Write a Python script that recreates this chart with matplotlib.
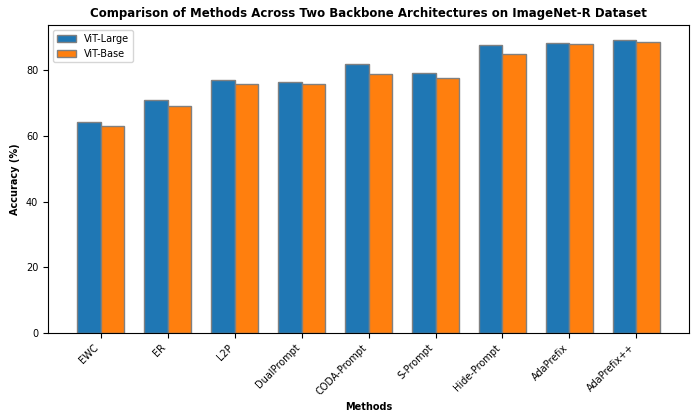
import numpy as np
from matplotlib import pyplot as plt

methods = ['EWC', 'ER', 'L2P', 'DualPrompt', 'CODA-Prompt', 'S-Prompt',
           'Hide-Prompt', 'AdaPrefix', 'AdaPrefix++']
vit_large = [64.3, 71.0, 77.0, 76.5, 82.1, 79.1, 87.6, 88.3, 89.4]
vit_base = [63.1, 69.1, 75.8, 75.9, 79.0, 77.6, 85.1, 87.9, 88.6]

fig, ax = plt.subplots(figsize=(6.96, 4.15), dpi=100)
x = np.arange(len(methods))
w = 0.35
ax.bar(x - w/2, vit_large, w, label='ViT-Large', color='#1f77b4', edgecolor='grey')
ax.bar(x + w/2, vit_base, w, label='ViT-Base', color='#ff7f0e', edgecolor='grey')

ax.set_xticks(x)
ax.set_xticklabels(methods, rotation=45, ha='right', fontsize=7)
ax.tick_params(axis='y', labelsize=7)
ax.set_xlabel('Methods', fontsize=7, fontweight='bold')
ax.set_ylabel('Accuracy (%)', fontsize=7, fontweight='bold')
ax.set_title('Comparison of Methods Across Two Backbone Architectures on ImageNet-R Dataset',
             fontsize=8.5, fontweight='bold')
ax.legend(loc='upper left', fontsize=7)
fig.subplots_adjust(left=0.069, right=0.99, top=0.94, bottom=0.198)
plt.savefig('out.png')
